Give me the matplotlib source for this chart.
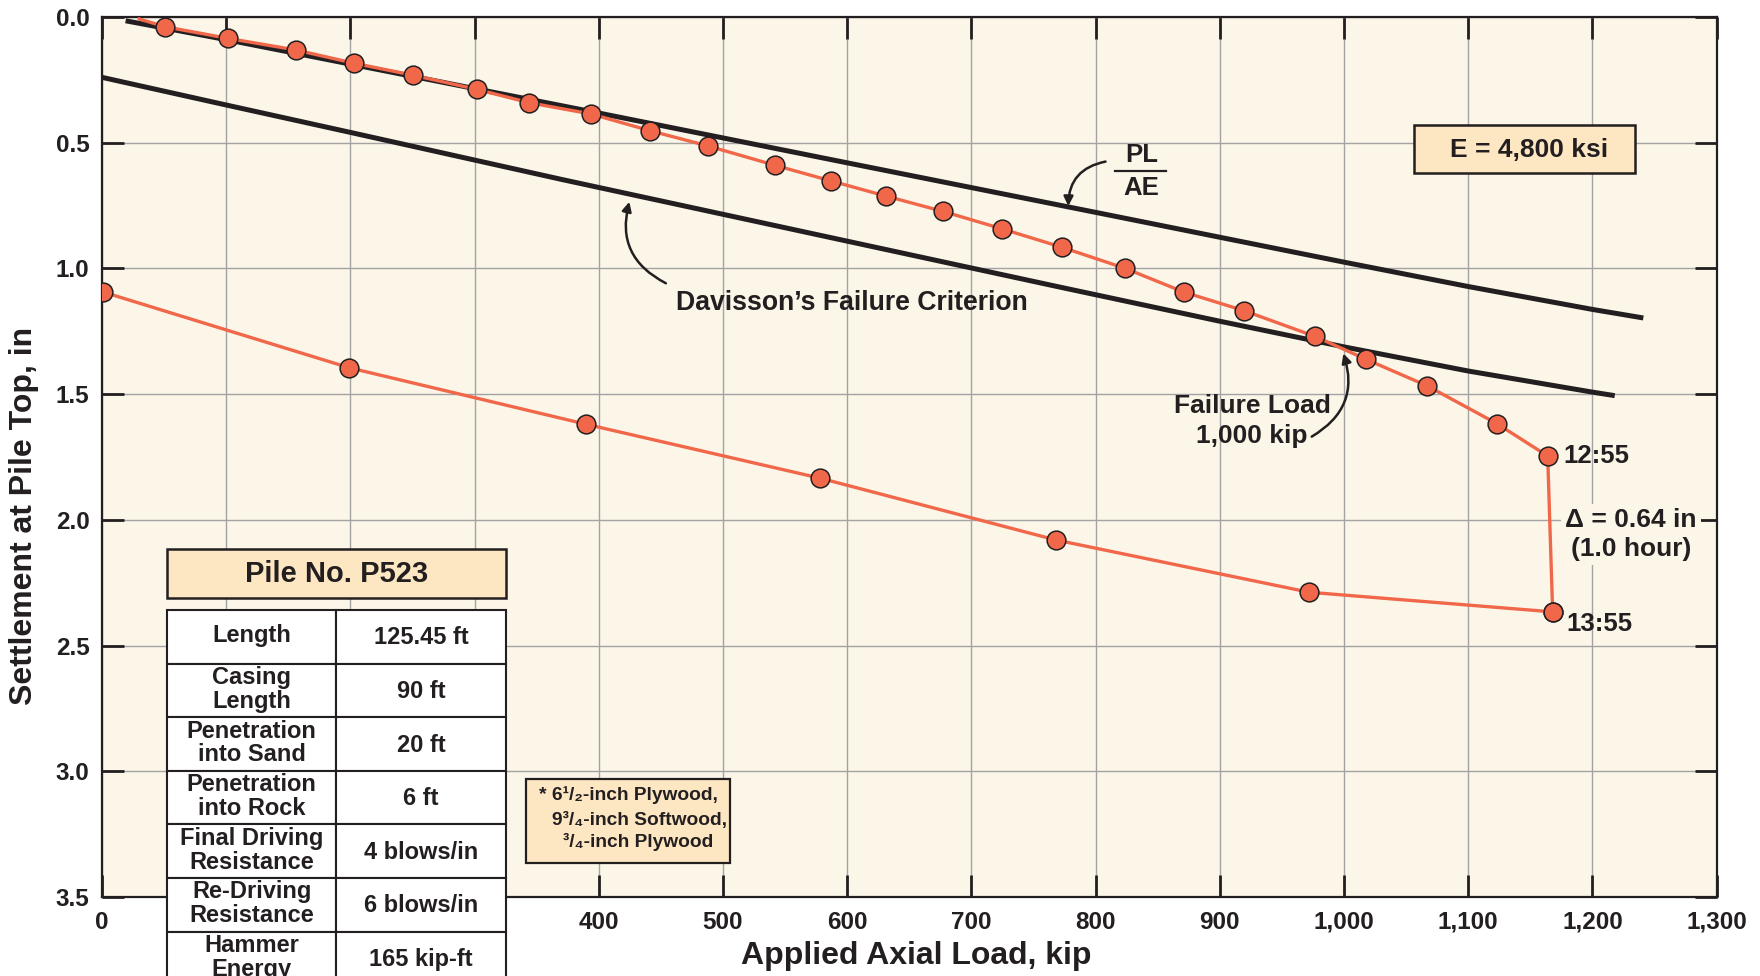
import matplotlib

matplotlib.use("Agg")
import matplotlib.pyplot as plt  # noqa: E402
from matplotlib.patches import Rectangle  # noqa: E402
from matplotlib.ticker import FuncFormatter  # noqa: E402

plt.rcParams["font.family"] = ["Liberation Sans", "DejaVu Sans"]
plt.rcParams["font.weight"] = "bold"

W, H = 1760, 976
INK = "#231f20"
ORANGE = "#f1674a"
PAPER = "#fcf6e9"
PEACH = "#fde6c2"
GRID = "#a3a3a3"

# static load test, loading branch (first entry is the line start, no marker)
load_kip = [30, 51, 101.5, 156, 203, 250, 302, 344, 394, 441, 488, 542, 587,
            631, 677, 725, 773, 824, 871, 919.5, 976.5, 1018, 1067, 1123,
            1164, 1168]
load_settle = [0.008, 0.039, 0.085, 0.131, 0.184, 0.231, 0.288, 0.341, 0.386,
               0.452, 0.513, 0.590, 0.652, 0.712, 0.773, 0.843, 0.916, 1.000,
               1.094, 1.168, 1.270, 1.362, 1.467, 1.617, 1.746, 2.366]

# unloading branch
unload_kip = [1168, 972, 768, 578, 390, 199, 1]
unload_settle = [2.366, 2.288, 2.080, 1.834, 1.620, 1.395, 1.094]

# elastic compression line PL/AE
elastic_kip = [19, 100, 400, 600, 800, 1000, 1100, 1200, 1241]
elastic_settle = [0.015, 0.090, 0.382, 0.580, 0.777, 0.975, 1.072, 1.163, 1.197]

# Davisson offset line
davisson_kip = [0, 100, 200, 300, 370, 770, 900, 1000, 1100, 1200, 1218]
davisson_settle = [0.240, 0.350, 0.459, 0.569, 0.646, 1.073, 1.210, 1.312,
                   1.408, 1.492, 1.506]

x_ticks = list(range(0, 1301, 100))
y_ticks = [0.0, 0.5, 1.0, 1.5, 2.0, 2.5, 3.0, 3.5]
# load ticks sitting under the pile data table get no label
x_ticks_under_table = [100, 200, 300]

pile_title = "Pile No. P523"
pile_props = ["Length", "Casing\nLength", "Penetration\ninto Sand",
              "Penetration\ninto Rock", "Final Driving\nResistance",
              "Re-Driving\nResistance", "Hammer\nEnergy"]
pile_values = ["125.45 ft", "90 ft", "20 ft", "6 ft", "4 blows/in",
               "6 blows/in", "165 kip-ft"]
cushion_lines = ["* 6\u00b9/\u2082-inch Plywood,",
                 "9\u00b3/\u2084-inch Softwood,",
                 "\u00b3/\u2084-inch Plywood"]


def fx(x):
    return x / W


def fy(y):
    return 1 - y / H


def load_label(v, _):
    if int(v) in x_ticks_under_table:
        return ""
    return f"{int(v):,}"


fig = plt.figure(figsize=(W / 100, H / 100), dpi=100)
fig.patch.set_facecolor("white")
ax = fig.add_axes([fx(102), fy(897), 1614.6 / W, 880 / H])
ax.set_facecolor(PAPER)

ax.plot(elastic_kip, elastic_settle, color=INK, lw=3.6, solid_capstyle="butt",
        solid_joinstyle="round", zorder=3)
ax.plot(davisson_kip, davisson_settle, color=INK, lw=3.6, solid_capstyle="butt",
        solid_joinstyle="round", zorder=3)
ax.plot(load_kip, load_settle, color=ORANGE, lw=2.4, marker="o", ms=13.5,
        mfc=ORANGE, mec=INK, mew=1.1, markevery=slice(1, None), zorder=4)
ax.plot(unload_kip, unload_settle, color=ORANGE, lw=2.4, marker="o", ms=13.5,
        mfc=ORANGE, mec=INK, mew=1.1, zorder=4)

ax.set_xlim(0, 1300)
ax.set_ylim(3.5, 0)
ax.set_xticks(x_ticks)
ax.set_yticks(y_ticks)
ax.xaxis.set_major_formatter(FuncFormatter(load_label))
ax.yaxis.set_major_formatter(FuncFormatter(lambda v, _: f"{v:.1f}"))
ax.grid(True, color=GRID, lw=1.0, zorder=0)
ax.set_axisbelow(True)
ax.tick_params(direction="in", length=16, width=2, color=INK, top=True,
               right=True, labelsize=17.5, labelcolor=INK)
ax.tick_params(axis="x", pad=10)
ax.tick_params(axis="y", pad=9)
for lab in ax.get_xticklabels() + ax.get_yticklabels():
    lab.set_fontweight("bold")
for sp in ax.spines.values():
    sp.set_linewidth(1.6)
    sp.set_color(INK)

fig.text(fx(916), fy(964), "Applied Axial Load, kip", ha="center", va="baseline",
         fontsize=23, fontweight="bold", color=INK)
fig.text(fx(24), fy(516), "Settlement at Pile Top, in", ha="center", va="center",
         rotation=90, fontsize=23, fontweight="bold", color=INK)

# curve labels and leader arrows
arrow_kw = dict(arrowstyle="-|>", color=INK, lw=1.8, mutation_scale=14,
                shrinkA=0, shrinkB=0)
ax.text(462, 1.136, "Davisson\u2019s Failure Criterion", ha="left", va="center",
        fontsize=19.2, fontweight="bold", color=INK, zorder=5)
ax.annotate("", xy=(424.6, 0.735), xytext=(454, 1.059),
            arrowprops=dict(connectionstyle="arc3,rad=-0.4", **arrow_kw), zorder=5)

ax.text(837, 0.549, "PL", ha="center", va="center", fontsize=18.5,
        fontweight="bold", color=INK, zorder=5)
ax.text(837, 0.679, "AE", ha="center", va="center", fontsize=18.5,
        fontweight="bold", color=INK, zorder=5)
ax.plot([816, 857], [0.611, 0.611], color=INK, lw=1.6, zorder=5)
ax.annotate("", xy=(778, 0.752), xytext=(808, 0.575),
            arrowprops=dict(connectionstyle="arc3,rad=0.4", **arrow_kw), zorder=5)

ax.text(926, 1.606, "Failure Load\n1,000 kip", ha="center", va="center",
        fontsize=19, fontweight="bold", color=INK, linespacing=1.3, zorder=5)
ax.annotate("", xy=(999.5, 1.338), xytext=(974, 1.669),
            arrowprops=dict(connectionstyle="arc3,rad=0.4", **arrow_kw), zorder=5)

ax.annotate("12:55", xy=(load_kip[-2], load_settle[-2]), xytext=(11, 0),
            textcoords="offset points", ha="left", va="center", fontsize=18.5,
            fontweight="bold", color=INK, zorder=5)
ax.annotate("13:55", xy=(load_kip[-1], load_settle[-1]), xytext=(10, -9),
            textcoords="offset points", ha="left", va="center", fontsize=18.5,
            fontweight="bold", color=INK, zorder=5)
ax.text(1231, 2.058, "\u0394 = 0.64 in\n(1.0 hour)", ha="center", va="center",
        fontsize=19, fontweight="bold", color=INK, linespacing=1.3, zorder=5,
        bbox=dict(boxstyle="square,pad=0.15", facecolor=PAPER, edgecolor="none"))

# modulus box
ax.add_patch(Rectangle((1056, 0.4296), 178, 0.192, facecolor=PEACH,
                       edgecolor=INK, lw=1.8, zorder=5))
ax.text(1149, 0.527, "E = 4,800 ksi", ha="center", va="center", fontsize=19,
        fontweight="bold", color=INK, zorder=6)

# cushion note
ax.add_patch(Rectangle((341.4, 3.032), 164.2, 0.334, facecolor=PEACH,
                       edgecolor=INK, lw=1.6, zorder=5))
for x0, y0, line in zip([352, 362, 371], [3.095, 3.194, 3.28], cushion_lines):
    ax.text(x0, y0, line, ha="left", va="center", fontsize=13.8,
            fontweight="bold", color=INK, zorder=6)

# pile data table, laid out in figure pixels
TL, TM, TR = 167.2, 336.4, 506.0
fig.add_artist(Rectangle((fx(TL), fy(597.7)), (TR - TL) / W, (597.7 - 549.3) / H,
                         transform=fig.transFigure, facecolor=PEACH,
                         edgecolor=INK, lw=1.8, zorder=5))
fig.text(fx((TL + TR) / 2), fy(573.5), pile_title, ha="center", va="center",
         fontsize=21, fontweight="bold", color=INK, zorder=6)

ROW_H = 53.6
TOP = 610.0
for i, (prop, val) in enumerate(zip(pile_props, pile_values)):
    y0 = TOP + i * ROW_H
    for xa, xb in ((TL, TM), (TM, TR)):
        fig.add_artist(Rectangle((fx(xa), fy(y0 + ROW_H)), (xb - xa) / W, ROW_H / H,
                                 transform=fig.transFigure, facecolor="white",
                                 edgecolor=INK, lw=1.5, zorder=5))
    yc = y0 + ROW_H / 2
    fig.text(fx((TL + TM) / 2), fy(yc - 1), prop, ha="center", va="center",
             fontsize=17, fontweight="bold", color=INK, linespacing=1.04, zorder=6)
    fig.text(fx((TM + TR) / 2), fy(yc + 1), val, ha="center", va="center",
             fontsize=17, fontweight="bold", color=INK, zorder=6)

fig.savefig("out.png", dpi=100, facecolor="white")
